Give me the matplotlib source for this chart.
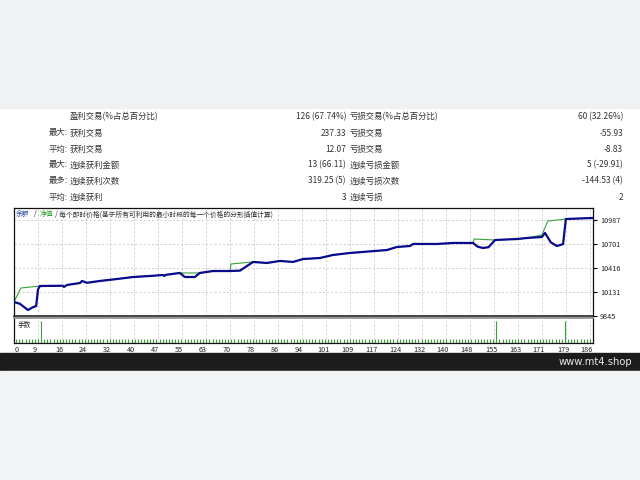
import matplotlib
matplotlib.use("Agg")
import matplotlib.pyplot as plt
import matplotlib.transforms as mtransforms
from matplotlib.patches import Rectangle

plt.rcParams['font.family'] = ['Noto Sans CJK SC', 'DejaVu Sans']

# --- stats table ---
row_prefix = ['', '最大:', '平均:', '最大:', '最多:', '平均:']
win_labels = ['盈利交易(%占总百分比)', '获利交易', '获利交易', '连续获利金额', '连续获利次数', '连续获利']
win_values = ['126 (67.74%)', '237.33', '12.07', '13 (66.11)', '319.25 (5)', '3']
loss_labels = ['亏损交易(%占总百分比)', '亏损交易', '亏损交易', '连续亏损金额', '连续亏损次数', '连续亏损']
loss_values = ['60 (32.26%)', '-55.93', '-8.83', '5 (-29.91)', '-144.53 (4)', '2']

# --- balance / equity curves (trade number, account value) ---
bal_x = [1.3, 3.2, 5.8, 7.4, 8.4, 9.0, 9.6, 17.0, 17.3, 18.3, 22.5, 23.1, 24.7, 28.9,
         34.3, 39.5, 44.9, 49.1, 49.5, 50.0, 54.5, 56.1, 59.3, 60.9, 65.1, 70.6, 73.8,
         78.0, 82.4, 86.6, 90.8, 94.0, 99.4, 103.6, 109.1, 120.9, 124.1, 128.3, 129.3,
         137.0, 142.1, 148.5, 150.0, 151.7, 153.5, 155.6, 162.6, 165.8, 170.6, 171.6,
         173.5, 175.4, 177.4, 178.3, 186.7]
bal_y = [10012, 9990, 9916, 9950, 9964, 10160, 10202, 10205, 10190, 10214, 10238, 10262,
         10240, 10262, 10285, 10309, 10321, 10333, 10322, 10335, 10357, 10309, 10309, 10357,
         10380, 10380, 10385, 10488, 10476, 10500, 10488, 10523, 10535, 10571, 10595, 10630,
         10666, 10678, 10702, 10702, 10714, 10714, 10670, 10654, 10664, 10749, 10761, 10773,
         10785, 10833, 10720, 10678, 10700, 10999, 11011]

eq_x = [1.3, 3.5, 9.6, 17.0, 17.3, 18.3, 22.5, 23.1, 24.7, 28.9, 34.3, 39.5, 44.9, 49.1,
        49.5, 50.0, 54.5, 60.9, 65.1, 70.6, 70.9, 78.0, 82.4, 86.6, 90.8, 94.0, 99.4, 103.6,
        109.1, 120.9, 124.1, 128.3, 129.3, 137.0, 142.1, 148.5, 148.9, 155.6, 162.6, 165.8,
        170.6, 172.5, 178.3, 186.7]
eq_y = [10012, 10178, 10202, 10205, 10190, 10214, 10238, 10262, 10240, 10262, 10285, 10309,
        10321, 10333, 10322, 10335, 10357, 10357, 10380, 10380, 10464, 10488, 10476, 10500,
        10488, 10523, 10535, 10571, 10595, 10630, 10666, 10678, 10702, 10702, 10714, 10714,
        10761, 10749, 10761, 10773, 10809, 10975, 10999, 11011]

# --- lots per trade ---
trade_no = list(range(1, 187))
big_lot_trades = [10, 156, 178]
lots = [0.9 if t in big_lot_trades else 0.16 for t in trade_no]

y_ticks = [9845, 10131, 10416, 10701, 10987]
x_tick_labels = ['0', '9', '16', '24', '32', '40', '47', '55', '63', '70', '78', '86', '94',
                 '101', '109', '117', '124', '132', '140', '148', '155', '163', '171', '179', '186']

W, H = 640, 480
fig = plt.figure(figsize=(6.4, 4.8), dpi=100)
fig.patch.set_facecolor('white')


def fx(px):
    return px / W


def fy(py):
    return 1 - py / H


# background bands
fig.patches.append(Rectangle((0, fy(108)), 1, 108 / H, transform=fig.transFigure,
                             color='#eff1f3', zorder=0))
fig.patches.append(Rectangle((0, fy(371)), 1, 18 / H, transform=fig.transFigure,
                             color='#1c1c1c', zorder=0))
fig.patches.append(Rectangle((0, 0), 1, fy(371), transform=fig.transFigure,
                             color='#f1f3f5', zorder=0))
fig.text(fx(632), fy(362), 'www.mt4.shop', color='#e8e8e8', fontsize=7.2,
         ha='right', va='center', family='DejaVu Sans')

# stats table
fs = 6.0
for i in range(len(win_labels)):
    yy = fy(117 + i * 16)
    fig.text(fx(68), yy, row_prefix[i], fontsize=fs, ha='right', va='center', color='#333333')
    fig.text(fx(70), yy, win_labels[i], fontsize=fs, ha='left', va='center', color='#333333')
    fig.text(fx(346), yy, win_values[i], fontsize=fs, ha='right', va='center', color='#333333')
    fig.text(fx(350), yy, loss_labels[i], fontsize=fs, ha='left', va='center', color='#333333')
    fig.text(fx(623), yy, loss_values[i], fontsize=fs, ha='right', va='center', color='#333333')

# main chart
ax = fig.add_axes([fx(14), fy(316), 579 / W, 108 / H])
ax.plot(eq_x, eq_y, color='#3aa03a', lw=0.8, zorder=2)
ax.plot(bal_x, bal_y, color='#0a0a8c', lw=1.6, zorder=3)
ax.set_xlim(1.304, 187.0)
ax.set_ylim(9845, 11130)
x_tick_pos = [1.304 + 7.696 * k for k in range(len(x_tick_labels))]
ax.set_xticks(x_tick_pos)
ax.set_xticklabels([])
ax.tick_params(axis='x', length=0)
ax.yaxis.tick_right()
ax.set_yticks(y_ticks)
ax.set_yticklabels([str(v) for v in y_ticks], fontsize=5.2, color='#222222')
ax.tick_params(axis='y', length=3, width=0.8, pad=2)
ax.grid(True, color='#c8c8c8', lw=0.6, ls=(0, (2.5, 2.5)))
for s in ax.spines.values():
    s.set_linewidth(0.9)
    s.set_color('#111111')
ax.spines['bottom'].set_linewidth(1.1)

lfs = 4.9
ax.text(0.0035, 0.94, '余额', transform=ax.transAxes, fontsize=lfs, color='#2040a0', va='center')
ax.text(0.034, 0.94, '/', transform=ax.transAxes, fontsize=lfs, color='#333333', va='center')
ax.text(0.044, 0.94, '净值', transform=ax.transAxes, fontsize=lfs, color='#2e9e2e', va='center')
ax.text(0.070, 0.94, '/ 每个即时价格(基于所有可利用的最小时段的每一个价格的分形插值计算)',
        transform=ax.transAxes, fontsize=lfs, color='#333333', va='center')

# lots panel
vx = fig.add_axes([fx(14), fy(343), 579 / W, 25 / H])
vx.vlines(trade_no, 0, lots, color='#3aa03a', lw=0.8)
vx.set_xlim(1.304, 187.0)
vx.set_ylim(0, 1.0)
vx.set_yticks([])
vx.set_xticks(x_tick_pos)
vx.set_xticklabels(x_tick_labels, fontsize=5.2, color='#222222')
vx.tick_params(axis='x', length=0, pad=2)
for k, lab in enumerate(vx.get_xticklabels()):
    dx = 3 if k == 0 else -3
    offset = mtransforms.ScaledTranslation(dx / 100, 0, fig.dpi_scale_trans)
    lab.set_transform(lab.get_transform() + offset)
vx.grid(True, axis='x', color='#c8c8c8', lw=0.6, ls=(0, (2.5, 2.5)))
for s in vx.spines.values():
    s.set_linewidth(0.9)
    s.set_color('#111111')
vx.spines['top'].set_color('#888888')
vx.spines['top'].set_linewidth(1.2)
vx.text(0.007, 0.72, '手数', transform=vx.transAxes, fontsize=4.8, color='#222222', va='center')

fig.savefig('out.png', dpi=100)
